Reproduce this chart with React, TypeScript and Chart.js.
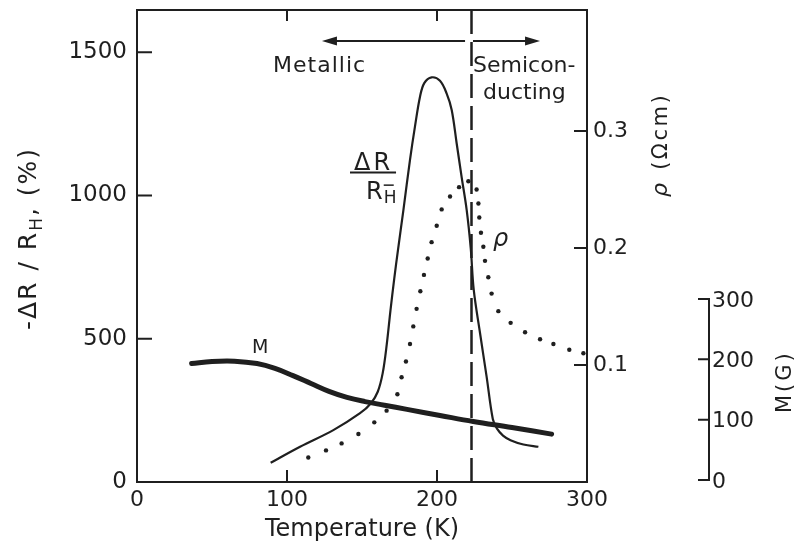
import React, { useEffect, useRef } from 'react';
import { Chart, registerables } from 'chart.js';

Chart.register(...registerables);

const FONT = '"DejaVu Sans", "Liberation Sans", sans-serif';
const INK = '#1f1f1f';

// ---- axes ----
const tempTicks = [0, 100, 200, 300];
const dRTicks = [0, 500, 1000, 1500];
const rhoTicks = [0.1, 0.2, 0.3];
const mTicks = [0, 100, 200, 300];
const tempRange = [0, 300];
const dRRange = [0, 1647];
const rhoRange = [0, 0.4034];
const mRange = [-3.3, 779];
const transitionT = 223;

// ---- -ΔR/R_H (%) curve ----
const dRTemp = [89.1, 108.7, 130.9, 148.7, 156, 160.5, 163.8, 166.5, 169, 171.5, 174, 177.6, 182, 185.3, 188.7, 191.5, 196.4, 202, 206.4, 209.8, 213.1, 216.4, 219.8, 222.5, 224.5, 228.7, 233.1, 237.2, 240, 244, 249, 257.6, 267.6];
const dRValue = [67, 123, 181, 240, 275, 315, 380, 480, 600, 710, 810, 949, 1124, 1240, 1345, 1392, 1412, 1400, 1356, 1298, 1182, 1065, 949, 815, 670, 519, 367, 220, 186, 162, 146, 131, 123];

// ---- resistivity rho (Ω cm), dotted ----
const rhoTemp = [114.2, 126, 136.4, 147.6, 158.2, 166.4, 173.6, 176.4, 179.3, 182, 184.2, 186.4, 188.9, 191.3, 193.8, 196.4, 199.8, 203.1, 208.7, 214.7, 220.9, 226.4, 227.6, 228.2, 229.3, 230.9, 232, 234.2, 236.4, 240.9, 249.1, 258.7, 268.7, 277.6, 288.2, 297.6];
const rhoValue = [0.021, 0.027, 0.033, 0.041, 0.051, 0.061, 0.075, 0.0895, 0.103, 0.118, 0.133, 0.148, 0.163, 0.177, 0.191, 0.205, 0.219, 0.233, 0.244, 0.252, 0.257, 0.25, 0.238, 0.226, 0.213, 0.201, 0.189, 0.175, 0.161, 0.146, 0.136, 0.128, 0.122, 0.118, 0.113, 0.11];

// ---- magnetisation M (G) ----
const mTemp = [36.4, 50, 65, 80, 92, 104, 116, 128, 140, 152, 165, 180, 202, 224.2, 250, 276.4];
const mValue = [193, 196.5, 197, 193, 185, 173, 160, 147, 137, 130, 124, 117, 107, 97, 87, 76];

const pts = (xs: number[], ys: number[]) => xs.map((x, i) => ({ x, y: ys[i] }));

function drawRotated(ctx: CanvasRenderingContext2D, x: number, y: number, parts: { t: string; font: string; dy?: number; sp?: number }[]) {
  ctx.save();
  ctx.translate(x, y);
  ctx.rotate(-Math.PI / 2);
  ctx.textAlign = 'left';
  ctx.textBaseline = 'alphabetic';
  let cx = 0;
  for (const p of parts) {
    ctx.font = p.font;
    (ctx as any).letterSpacing = (p.sp ?? 0) + 'px';
    ctx.fillText(p.t, cx, p.dy ?? 0);
    cx += ctx.measureText(p.t).width;
  }
  ctx.restore();
}

const noPad = (s: any) => {
  s.paddingTop = 0;
  s.paddingBottom = 0;
  s.paddingLeft = 0;
  s.paddingRight = 0;
};

const figurePlugin = {
  id: 'figure',
  beforeDraw(chart: any) {
    const { ctx, width, height } = chart;
    ctx.save();
    ctx.fillStyle = '#ffffff';
    ctx.fillRect(0, 0, width, height);
    ctx.restore();
  },
  afterDraw(chart: any) {
    const { ctx, chartArea: a, scales } = chart;
    const sx = scales.x, sy = scales.y, sr = scales.yR, sm = scales.yM;
    ctx.save();
    ctx.strokeStyle = INK;
    ctx.fillStyle = INK;
    ctx.lineWidth = 2;
    ctx.lineCap = 'butt';
    // frame
    ctx.strokeRect(a.left, a.top, a.right - a.left, a.bottom - a.top);
    // inward ticks
    ctx.beginPath();
    for (const t of tempTicks.slice(1, 3)) {
      const px = sx.getPixelForValue(t);
      ctx.moveTo(px, a.bottom); ctx.lineTo(px, a.bottom - 12);
      ctx.moveTo(px, a.top); ctx.lineTo(px, a.top + 11);
    }
    for (const v of dRTicks.slice(1)) {
      const py = sy.getPixelForValue(v);
      ctx.moveTo(a.left, py); ctx.lineTo(a.left + 15, py);
    }
    for (const v of rhoTicks) {
      const py = sr.getPixelForValue(v);
      ctx.moveTo(a.right, py); ctx.lineTo(a.right - 13, py);
    }
    ctx.stroke();

    // M axis (bracket style)
    const mx = 709;
    ctx.beginPath();
    ctx.moveTo(mx, sm.getPixelForValue(mTicks[0]));
    ctx.lineTo(mx, sm.getPixelForValue(mTicks[mTicks.length - 1]));
    for (const v of mTicks) {
      const py = sm.getPixelForValue(v);
      ctx.moveTo(mx + 1, py); ctx.lineTo(mx - 11, py);
    }
    ctx.stroke();
    ctx.font = `22px ${FONT}`;
    ctx.textAlign = 'left';
    ctx.textBaseline = 'middle';
    for (const v of mTicks) {
      ctx.fillText(String(v), mx + 3, sm.getPixelForValue(v) + 2);
    }

    // arrow Metallic <-> Semiconducting
    const ay = sy.getPixelForValue(1539);
    const x1 = sx.getPixelForValue(123.3), x2 = sx.getPixelForValue(268.7);
    const g1 = sx.getPixelForValue(218.7), g2 = sx.getPixelForValue(224);
    ctx.lineWidth = 2;
    ctx.beginPath();
    ctx.moveTo(x1 + 10, ay); ctx.lineTo(g1, ay);
    ctx.moveTo(g2, ay); ctx.lineTo(x2 - 10, ay);
    ctx.stroke();
    ctx.beginPath();
    ctx.moveTo(x1, ay); ctx.lineTo(x1 + 15, ay - 4.5); ctx.lineTo(x1 + 15, ay + 4.5); ctx.closePath();
    ctx.moveTo(x2, ay); ctx.lineTo(x2 - 15, ay - 4.5); ctx.lineTo(x2 - 15, ay + 4.5); ctx.closePath();
    ctx.fill();

    // annotations
    ctx.textBaseline = 'alphabetic';
    ctx.textAlign = 'left';
    ctx.font = `22px ${FONT}`;
    (ctx as any).letterSpacing = '1px';
    ctx.fillText('Metallic', sx.getPixelForValue(90.7), sy.getPixelForValue(1430));
    (ctx as any).letterSpacing = '0px';
    ctx.fillText('Semicon-', sx.getPixelForValue(224), sy.getPixelForValue(1430));
    ctx.fillText('ducting', sx.getPixelForValue(230.7), sy.getPixelForValue(1338));

    // ΔR / R_H fraction
    ctx.font = `24px ${FONT}`;
    (ctx as any).letterSpacing = '3px';
    ctx.textAlign = 'center';
    ctx.fillText('ΔR', sx.getPixelForValue(156.7) + 1.5, sy.getPixelForValue(1089));
    (ctx as any).letterSpacing = '0px';
    ctx.lineWidth = 2;
    ctx.beginPath();
    const fy = sy.getPixelForValue(1080);
    ctx.moveTo(sx.getPixelForValue(142), fy); ctx.lineTo(sx.getPixelForValue(172.7), fy);
    ctx.stroke();
    ctx.textAlign = 'left';
    const rx = sx.getPixelForValue(152.7), ry = sy.getPixelForValue(987);
    ctx.fillText('R', rx, ry);
    const rw = ctx.measureText('R').width;
    ctx.font = `17px ${FONT}`;
    ctx.fillText('H', rx + rw + 1, ry + 4);
    ctx.lineWidth = 1.5;
    ctx.beginPath();
    ctx.moveTo(rx + rw + 1, ry - 14); ctx.lineTo(rx + rw + 11, ry - 14);
    ctx.stroke();

    ctx.font = `italic 24px ${FONT}`;
    ctx.fillText('ρ', sx.getPixelForValue(237.3), sr.getPixelForValue(0.2013));
    ctx.font = `19px ${FONT}`;
    ctx.fillText('M', sx.getPixelForValue(76.7), sy.getPixelForValue(451));

    // axis titles
    drawRotated(ctx, a.left - 101, 330, [
      { t: '-ΔR / R', font: `25px ${FONT}`, sp: 2 },
      { t: 'H', font: `17px ${FONT}`, dy: 6, sp: 2 },
      { t: ', (%)', font: `25px ${FONT}`, sp: 2 },
    ]);
    drawRotated(ctx, 667, 197, [
      { t: 'ρ', font: `italic 22px ${FONT}`, sp: 4 },
      { t: ' (Ωcm)', font: `21px ${FONT}`, sp: 2.5 },
    ]);
    drawRotated(ctx, 791, 413, [{ t: 'M(G)', font: `21px ${FONT}`, sp: 3 }]);
    ctx.restore();
  },
};

export default function App() {
  const ref = useRef<HTMLCanvasElement>(null);
  useEffect(() => {
    if (!ref.current) return;
    const chart = new Chart(ref.current, {
      type: 'line',
      data: {
        datasets: [
          {
            label: 'M',
            data: pts(mTemp, mValue),
            yAxisID: 'yM',
            borderColor: INK,
            borderWidth: 5,
            borderCapStyle: 'round',
            pointRadius: 0,
            tension: 0.4,
          },
          {
            label: 'dR',
            data: pts(dRTemp, dRValue),
            yAxisID: 'y',
            borderColor: INK,
            borderWidth: 2.2,
            pointRadius: 0,
            tension: 0.35,
          },
          {
            label: 'rho',
            data: pts(rhoTemp, rhoValue),
            yAxisID: 'yR',
            showLine: false,
            pointRadius: 2.2,
            pointBorderWidth: 0,
            pointBackgroundColor: INK,
            borderColor: INK,
          },
          {
            label: 'transition',
            data: [{ x: transitionT, y: dRRange[0] }, { x: transitionT, y: dRRange[1] }],
            yAxisID: 'y',
            borderColor: INK,
            borderWidth: 2.5,
            borderDash: [24, 8],
            pointRadius: 0,
          },
        ],
      } as any,
      options: {
        responsive: false,
        animation: false,
        events: [],
        layout: { padding: { top: 10, left: 0, right: 0, bottom: 0 } },
        plugins: { legend: { display: false }, tooltip: { enabled: false } },
        scales: {
          x: {
            type: 'linear',
            position: 'bottom',
            min: tempRange[0],
            max: tempRange[1],
            afterFit: (s: any) => { s.height = 63; noPad(s); },
            afterBuildTicks: (s: any) => { s.ticks = tempTicks.map((value) => ({ value })); },
            grid: { display: false, drawTicks: false },
            border: { display: false },
            ticks: { font: { family: FONT, size: 22 }, color: INK, padding: 5, maxRotation: 0, autoSkip: false, callback: (v: any) => String(v) },
            title: { display: true, text: 'Temperature (K)', font: { family: FONT, size: 24 }, color: INK, padding: { top: 0, bottom: 1 } },
          },
          y: {
            type: 'linear',
            position: 'left',
            min: dRRange[0],
            max: dRRange[1],
            afterFit: (s: any) => { s.width = 137; noPad(s); },
            afterBuildTicks: (s: any) => { s.ticks = dRTicks.map((value) => ({ value })); },
            grid: { display: false, drawTicks: false },
            border: { display: false },
            ticks: { font: { family: FONT, size: 23 }, color: INK, padding: 10, autoSkip: false, callback: (v: any) => String(v) },
          },
          yR: {
            type: 'linear',
            position: 'right',
            min: rhoRange[0],
            max: rhoRange[1],
            afterFit: (s: any) => { s.width = 207; noPad(s); },
            afterBuildTicks: (s: any) => { s.ticks = rhoTicks.map((value) => ({ value })); },
            grid: { display: false, drawTicks: false },
            border: { display: false },
            ticks: { font: { family: FONT, size: 22 }, color: INK, padding: 6, autoSkip: false, callback: (v: any) => Number(v).toFixed(1) },
          },
          yM: {
            type: 'linear',
            display: false,
            min: mRange[0],
            max: mRange[1],
          },
        },
      } as any,
      plugins: [figurePlugin],
    });
    return () => chart.destroy();
  }, []);
  return (
    <div style={{ position: 'fixed', left: 0, top: 0, width: 794, height: 545, background: '#fff' }}>
      <canvas ref={ref} width={794} height={545} style={{ display: 'block', width: 794, height: 545 }} />
    </div>
  );
}
